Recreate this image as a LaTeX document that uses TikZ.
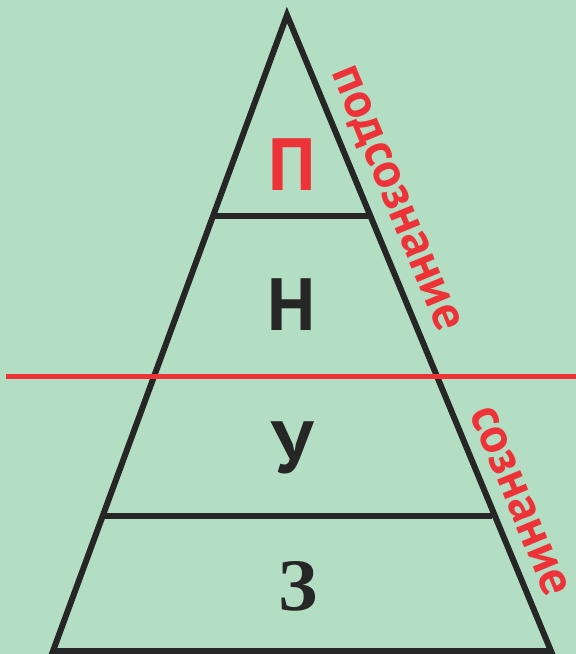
\documentclass[tikz,border=0pt]{standalone}
\usepackage{fontspec}
\setmainfont{PT Sans}
\newfontfamily\serifcyr{Liberation Serif}
\definecolor{bg}{HTML}{B4DEC4}
\definecolor{redc}{HTML}{EE3338}
\definecolor{ink}{HTML}{262626}
\begin{document}
\begin{tikzpicture}[x=1pt,y=-1pt,
  edge/.style={draw=ink,line width=6pt,line join=miter},
  bigletter/.style={font=\fontsize{74}{74}\selectfont\bfseries,text=ink,inner sep=0pt},
  sidelabel/.style={font=\fontsize{50}{50}\selectfont\bfseries,text=redc,inner sep=0pt,rotate=-67.6,anchor=base}]
\fill[bg] (0,0) rectangle (576,654);
\useasboundingbox (0,0) rectangle (576,654);
\coordinate (apex) at (287,15);
\coordinate (bl) at (53,651);
\coordinate (br) at (551,651);
\coordinate (l1) at (213,216);
\coordinate (r1) at (370,216);
\coordinate (l3) at (104,516);
\coordinate (r3) at (492,516);
\coordinate (rl) at (6,376);
\coordinate (rr) at (576,376);
\draw[edge] (apex) -- (bl) -- (br) -- cycle;
\draw[edge] (l1) -- (r1);
\draw[edge] (l3) -- (r3);
\draw[draw=redc,line width=5pt] (rl) -- (rr);
\node[bigletter,text=redc] (p) at (292,165) {П};
\node[bigletter] (n) at (292,305) {Н};
\node[bigletter] (u) at (293,448) {У};
\node[bigletter,font=\fontsize{74}{74}\selectfont\bfseries\serifcyr] (z) at (298,586) {З};
\node[sidelabel] (pod) at (385,203) {подсознание};
\node[sidelabel] (soz) at (508,506) {сознание};
\end{tikzpicture}
\end{document}
